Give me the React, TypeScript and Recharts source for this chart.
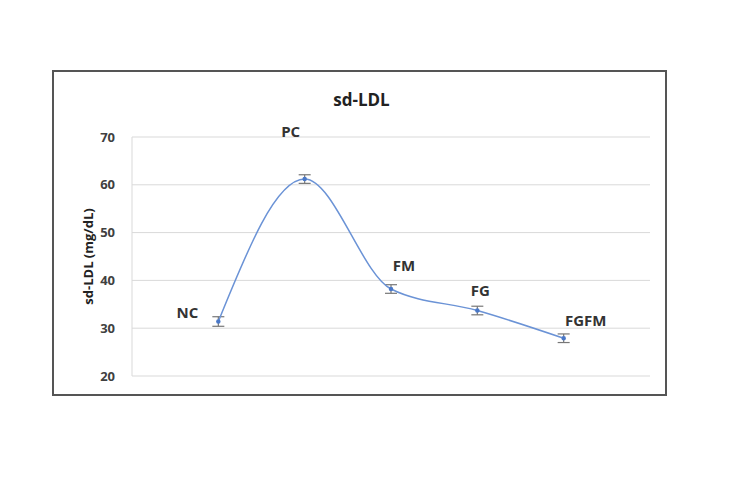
import React from 'react';
import {
  LineChart,
  Line,
  XAxis,
  YAxis,
  CartesianGrid,
  ErrorBar,
  LabelList,
} from 'recharts';

const groups = ['NC', 'PC', 'FM', 'FG', 'FGFM'];
const sdLdl = [31.4, 61.2, 38.2, 33.7, 27.9];
const sdLdlErr = [1.0, 0.9, 0.9, 0.9, 0.9];
const yTicks = [20, 30, 40, 50, 60, 70];

const chartData = groups.map((g, i) => ({
  pos: i + 1,
  group: g,
  value: sdLdl[i],
  err: sdLdlErr[i],
}));

// hand-placed label offsets, like the Excel original
const labelShift: Record<string, [number, number]> = {
  NC: [-31, -10],
  PC: [-14, -48],
  FM: [13, -24],
  FG: [3, -21],
  FGFM: [22, -18],
};

const FONT = '"Open Sans", "Liberation Sans", sans-serif';

const GroupLabel = (props: any) => {
  const { x, y, value } = props;
  const [dx, dy] = labelShift[value] || [0, -15];
  return (
    <text
      x={x + dx}
      y={y + dy}
      textAnchor="middle"
      dominantBaseline="central"
      fontFamily={FONT}
      fontWeight="bold"
      fontSize={15}
      fill="#333"
    >
      {value}
    </text>
  );
};

const YLabel = (props: any) => {
  const { viewBox } = props;
  const cx = 34;
  const cy = viewBox.y + viewBox.height / 2;
  return (
    <text
      x={cx}
      y={cy}
      transform={`rotate(-90, ${cx}, ${cy})`}
      textAnchor="middle"
      dominantBaseline="central"
      fontFamily={FONT}
      fontWeight="bold"
      fontSize={13}
      fill="#222"
    >
      sd-LDL (mg/dL)
    </text>
  );
};

export default function App() {
  return (
    <div style={{ position: 'absolute', left: 0, top: 0, width: 750, height: 499, background: '#fff' }}>
      <div
        style={{
          position: 'absolute',
          left: 52,
          top: 70,
          width: 615,
          height: 326,
          border: '2px solid #555',
          boxSizing: 'border-box',
        }}
      >
        <div
          style={{
            position: 'absolute',
            left: 0,
            width: 611,
            top: 16,
            textAlign: 'center',
            fontFamily: FONT,
            fontWeight: 'bold',
            fontSize: 17,
            color: '#222',
            paddingLeft: 2,
          }}
        >
          sd-LDL
        </div>
        <LineChart
          width={611}
          height={322}
          data={chartData}
          margin={{ top: 65, right: 15, bottom: 18, left: 18 }}
        >
          <CartesianGrid vertical={false} stroke="#d9d9d9" />
          <XAxis dataKey="pos" type="number" domain={[0, 6]} hide />
          <YAxis
            domain={[20, 70]}
            ticks={yTicks}
            width={60}
            tickLine={false}
            tickSize={0}
            tickMargin={17}
            axisLine={{ stroke: '#d9d9d9' }}
            tick={{ fontFamily: FONT, fontWeight: 'bold', fontSize: 13, fill: '#404040' }}
            label={<YLabel />}
          />
          <Line
            type="monotone"
            dataKey="value"
            stroke="#6b93d6"
            strokeWidth={1.5}
            dot={{ r: 1.5, fill: '#4a78c8', stroke: '#4a78c8' }}
            isAnimationActive={false}
          >
            <ErrorBar dataKey="err" width={6} stroke="#777" strokeWidth={1.2} direction="y" />
            <LabelList dataKey="group" content={<GroupLabel />} />
          </Line>
        </LineChart>
      </div>
    </div>
  );
}
